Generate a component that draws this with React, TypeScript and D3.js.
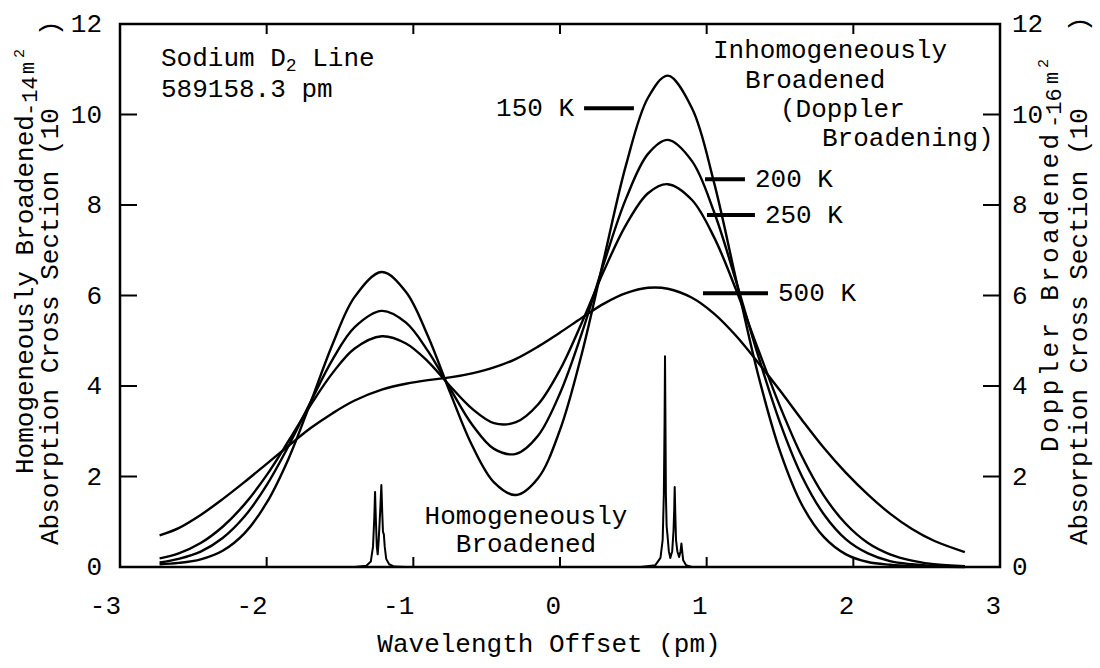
import React from "react";
import * as d3 from "d3";

// ---- data ----
const X_TICKS = [-3, -2, -1, 0, 1, 2, 3];
const Y_TICKS = [0, 2, 4, 6, 8, 10, 12];

const waveOffset = [-2.73, -2.6, -2.45, -2.3, -2.15, -2.0, -1.85, -1.7, -1.55, -1.4, -1.215, -1.05, -0.9, -0.75, -0.6, -0.45, -0.3, -0.15, 0, 0.15, 0.3, 0.45, 0.6, 0.735, 0.9, 1.05, 1.2, 1.35, 1.5, 1.65, 1.8, 1.95, 2.1, 2.25, 2.4, 2.55, 2.76];
const doppler150K = [0.06, 0.09, 0.17, 0.36, 0.75, 1.42, 2.40, 3.64, 4.93, 5.97, 6.52, 6.08, 5.10, 3.86, 2.69, 1.87, 1.59, 1.96, 3.03, 4.73, 6.82, 8.88, 10.37, 10.86, 10.14, 8.50, 6.36, 4.26, 2.56, 1.37, 0.66, 0.28, 0.11, 0.05, 0.02, 0.01, 0.0];
const doppler200K = [0.10, 0.18, 0.34, 0.64, 1.12, 1.81, 2.68, 3.65, 4.59, 5.30, 5.66, 5.40, 4.77, 3.95, 3.15, 2.61, 2.50, 2.90, 3.84, 5.18, 6.72, 8.14, 9.13, 9.44, 8.97, 7.85, 6.32, 4.68, 3.19, 2.00, 1.16, 0.61, 0.30, 0.13, 0.06, 0.02, 0.01];
const doppler250K = [0.19, 0.30, 0.53, 0.89, 1.39, 2.03, 2.79, 3.58, 4.29, 4.83, 5.10, 4.94, 4.54, 4.00, 3.50, 3.18, 3.20, 3.59, 4.36, 5.41, 6.55, 7.56, 8.26, 8.46, 8.11, 7.29, 6.13, 4.82, 3.55, 2.44, 1.57, 0.95, 0.53, 0.28, 0.14, 0.06, 0.02];
const doppler500K = [0.70, 0.86, 1.15, 1.50, 1.88, 2.28, 2.68, 3.07, 3.40, 3.68, 3.92, 4.05, 4.13, 4.19, 4.28, 4.41, 4.60, 4.87, 5.18, 5.51, 5.82, 6.05, 6.17, 6.15, 5.95, 5.60, 5.11, 4.52, 3.90, 3.25, 2.63, 2.08, 1.60, 1.18, 0.84, 0.58, 0.33];

const homogOffset = [-2.73, -1.40, -1.32, -1.29, -1.275, -1.266, -1.261, -1.256, -1.249, -1.243, -1.236, -1.225, -1.218, -1.212, -1.207, -1.201, -1.195, -1.185, -1.165, -1.13, -1.05, 0.55, 0.65, 0.685, 0.70, 0.708, 0.713, 0.716, 0.719, 0.722, 0.727, 0.733, 0.742, 0.752, 0.765, 0.774, 0.779, 0.782, 0.786, 0.791, 0.80, 0.812, 0.822, 0.828, 0.833, 0.84, 0.86, 0.90, 2.76];
const homogValue = [0, 0, 0.03, 0.12, 0.45, 1.1, 1.66, 1.1, 0.45, 0.28, 0.6, 1.3, 1.81, 1.2, 0.78, 0.72, 0.45, 0.18, 0.06, 0.01, 0, 0, 0.04, 0.2, 0.6, 1.6, 3.2, 4.66, 3.2, 1.6, 0.9, 0.7, 0.35, 0.2, 0.35, 0.8, 1.3, 1.77, 1.2, 0.6, 0.35, 0.22, 0.35, 0.52, 0.35, 0.15, 0.04, 0, 0];

const tempLabels = ["150 K", "200 K", "250 K", "500 K"];
// label leader lines in data units: [x0, x1, y]
const tempLeaders = [
  [0.164, 0.504, 10.14],
  [0.989, 1.261, 8.57],
  [1.002, 1.329, 7.78],
  [0.975, 1.418, 6.05],
];

const FONT = "'Liberation Mono', 'DejaVu Sans Mono', monospace";

export default function App() {
  const W = 1100, H = 668;
  const x = d3.scaleLinear().domain([-3, 3]).range([120, 1000]);
  const y = d3.scaleLinear().domain([0, 12]).range([567, 24]);

  const smooth = d3
    .line<number>()
    .x((_, i) => x(waveOffset[i]))
    .y((d) => y(d))
    .curve(d3.curveCatmullRom.alpha(0.5));
  const sharp = d3
    .line<number>()
    .x((_, i) => x(homogOffset[i]))
    .y((d) => y(d));

  const series = [doppler150K, doppler200K, doppler250K, doppler500K];
  const fs = 26;

  return (
    <svg width={W} height={H} style={{ position: "absolute", left: 0, top: 0, background: "#fff" }} fontFamily={FONT}>
      <rect x={0} y={0} width={W} height={H} fill="#fff" />
      {/* frame */}
      <rect x={x(-3)} y={y(12)} width={x(3) - x(-3)} height={y(0) - y(12)} fill="none" stroke="#000" strokeWidth={2.5} />
      {/* ticks */}
      {X_TICKS.map((t) => (
        <g key={"xt" + t}>
          <line x1={x(t)} x2={x(t)} y1={y(0)} y2={y(0) - 10} stroke="#000" strokeWidth={2} />
          <line x1={x(t)} x2={x(t)} y1={y(12)} y2={y(12) + 10} stroke="#000" strokeWidth={2} />
          <text x={x(t) + 1} y={614} textAnchor="end" fontSize={fs} fill="#000">{t}</text>
        </g>
      ))}
      {Y_TICKS.map((t) => (
        <g key={"yt" + t}>
          <line x1={x(-3)} x2={x(-3) + 17} y1={y(t)} y2={y(t)} stroke="#000" strokeWidth={2} />
          <line x1={x(3)} x2={x(3) - 17} y1={y(t)} y2={y(t)} stroke="#000" strokeWidth={2} />
          <text x={102} y={y(t) + 8} textAnchor="end" fontSize={fs} fill="#000">{t}</text>
          <text x={1012} y={y(t) + 8} textAnchor="start" fontSize={fs} fill="#000">{t}</text>
        </g>
      ))}

      {/* curves */}
      {series.map((s, i) => (
        <path key={"s" + i} d={smooth(s) || ""} fill="none" stroke="#000" strokeWidth={2.4} />
      ))}
      <path d={sharp(homogValue) || ""} fill="none" stroke="#000" strokeWidth={2} strokeLinejoin="round" />

      {/* temperature labels */}
      {tempLeaders.map((l, i) => (
        <line key={"ld" + i} x1={x(l[0])} x2={x(l[1])} y1={y(l[2])} y2={y(l[2])} stroke="#000" strokeWidth={4} />
      ))}
      <text x={x(tempLeaders[0][0]) - 10} y={y(tempLeaders[0][2]) + 8} textAnchor="end" fontSize={fs}>{tempLabels[0]}</text>
      {[1, 2, 3].map((i) => (
        <text key={"tl" + i} x={x(tempLeaders[i][1]) + 10} y={y(tempLeaders[i][2]) + 8} fontSize={fs}>{tempLabels[i]}</text>
      ))}

      {/* annotations */}
      <text x={161} y={66} fontSize={fs}>
        Sodium D<tspan fontSize={18} dy={5}>2</tspan><tspan dy={-5}> Line</tspan>
      </text>
      <text x={161} y={97} fontSize={fs}>589158.3 pm</text>

      <text x={713} y={58} fontSize={fs}>Inhomogeneously</text>
      <text x={745} y={88} fontSize={fs}>Broadened</text>
      <text x={780} y={117} fontSize={fs}>(Doppler</text>
      <text x={822} y={146} fontSize={fs}>Broadening)</text>

      <text x={526} y={524} textAnchor="middle" fontSize={fs}>Homogeneously</text>
      <text x={526} y={552} textAnchor="middle" fontSize={fs}>Broadened</text>

      {/* x axis title */}
      <text x={549} y={652} textAnchor="middle" fontSize={fs}>Wavelength Offset (pm)</text>

      {/* left axis title */}
      <text transform="translate(33,474) rotate(-90)" fontSize={fs}>Homogeneously Broadened</text>
      <text transform="translate(37,116) rotate(-90)" fontSize={22}>-14</text>
      <text transform="translate(34,74) rotate(-90)" fontSize={20}>m</text>
      <text transform="translate(24,58) rotate(-90)" fontSize={15}>2</text>
      <text transform="translate(58,545) rotate(-90)" fontSize={fs}>Absorption Cross Section (10</text>
      <text transform="translate(58,36) rotate(-90)" fontSize={fs}>)</text>

      {/* right axis title */}
      <text transform="translate(1058,452) rotate(-90)" fontSize={fs} textLength={318} lengthAdjust="spacing">Doppler Broadened</text>
      <text transform="translate(1061,128) rotate(-90)" fontSize={22}>-16</text>
      <text transform="translate(1058,84) rotate(-90)" fontSize={20}>m</text>
      <text transform="translate(1048,68) rotate(-90)" fontSize={15}>2</text>
      <text transform="translate(1087,545) rotate(-90)" fontSize={fs}>Absorption Cross Section (10</text>
      <text transform="translate(1087,32) rotate(-90)" fontSize={fs}>)</text>
    </svg>
  );
}
